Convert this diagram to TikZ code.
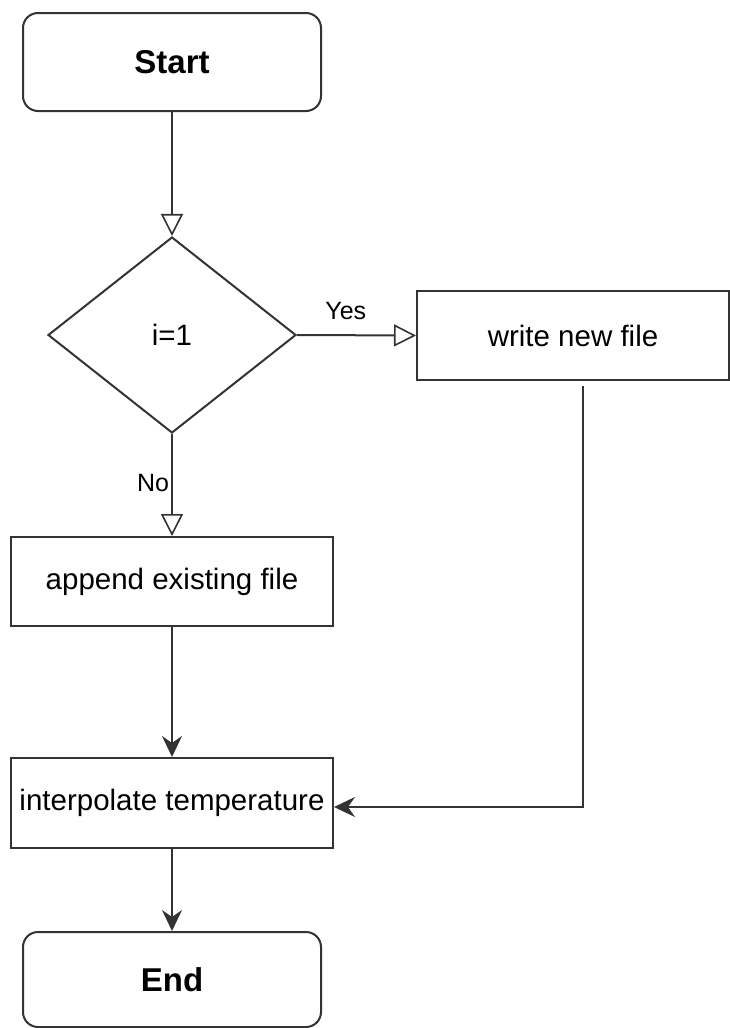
\documentclass[tikz,border=0pt]{standalone}
\usepackage{fontspec}
\setmainfont{Liberation Sans}
\usetikzlibrary{shapes.geometric,arrows.meta}
\definecolor{linec}{HTML}{333333}
\tikzset{
  x=1pt, y=-1pt,
  every node/.style={font=\fontsize{29.5}{34}\selectfont, text=black},
  box/.style={draw=linec, line width=2pt, fill=white, inner sep=0pt},
  term/.style={box, rounded corners=15pt, minimum width=298pt, font=\bfseries\fontsize{33}{38}\selectfont},
  proc/.style={box, minimum height=89pt},
  dec/.style={box, diamond, minimum width=248pt, minimum height=196pt, aspect=1.265},
  lbl/.style={font=\fontsize{25}{29}\selectfont, inner sep=0pt},
  conn/.style={draw=linec, line width=2pt},
  openarr/.style={conn, -{Triangle[open, length=22pt, width=22pt, line width=1.6pt]}},
  fillarr/.style={conn, -{Stealth[length=21pt, width=20pt, inset=7pt]}},
}
\begin{document}
\begin{tikzpicture}
\useasboundingbox (0,0) rectangle (730,1028);
\node[term, minimum height=98pt] (start) at (172,62) {Start};
\node[dec] (d) at (172,335) {i=1};
\node[proc, minimum width=312pt] (wnf) at (573,335.5) {write new file};
\node[proc, minimum width=322pt] (app) at (172,581.5) {append existing file};
\node[proc, minimum width=322pt, minimum height=90pt] (interp) at (172,803) {interpolate temperature};
\node[term, minimum height=95pt] (end) at (172,979.5) {End};

\draw[openarr] (start) -- (d);
\draw[openarr] (d.east) -- node[lbl, above=14pt, pos=0.41] (yes) {Yes} (wnf.west);
\draw[openarr] (d.south) -- node[lbl, left=2pt, pos=0.48] (no) {No} (app.north);
\draw[fillarr] (app) -- (interp);
\coordinate (wb) at (583,386);
\coordinate (corner) at (583,807);
\draw[fillarr] (wb) -- (corner) -- (corner -| interp.east);
\draw[fillarr] (interp) -- (end);
\end{tikzpicture}
\end{document}
